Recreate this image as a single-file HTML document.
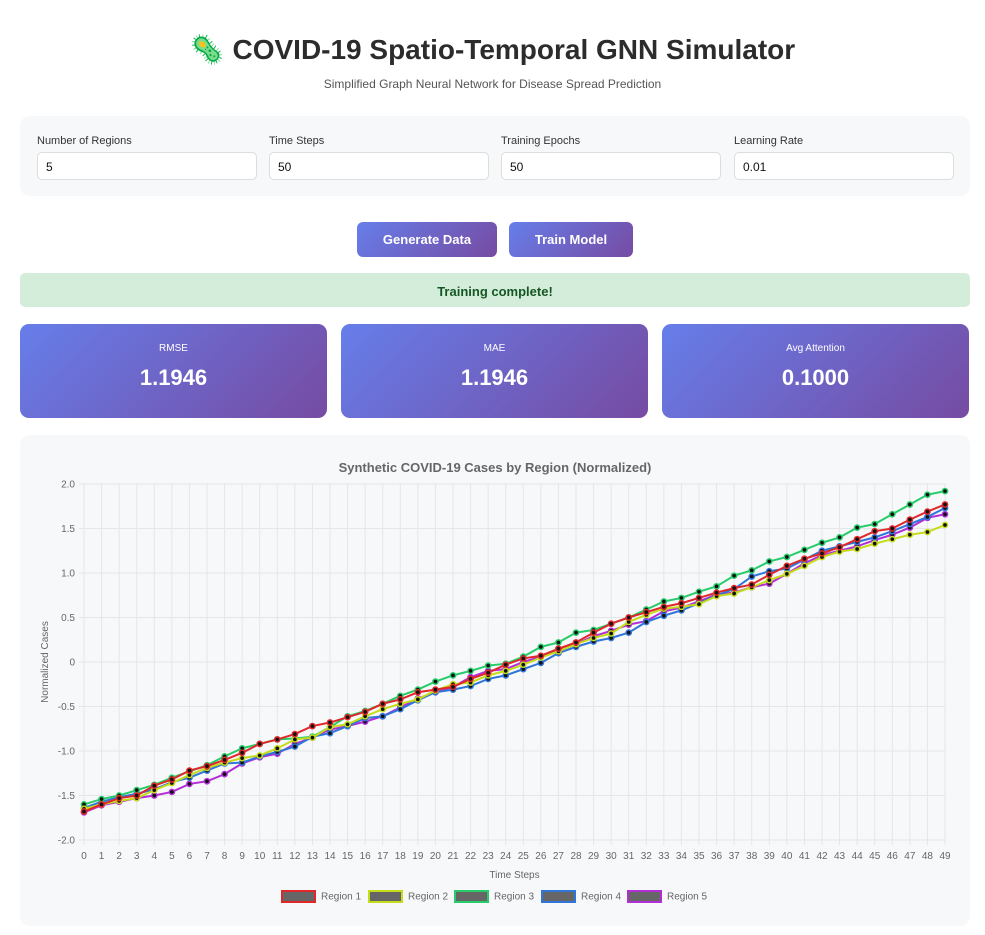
<!DOCTYPE html>
<html><head><meta charset="utf-8">
<style>
*{box-sizing:border-box;margin:0;padding:0}
body{width:985px;height:935px;background:#fff;font-family:"Liberation Sans",sans-serif;color:#333;position:relative;overflow:hidden}
h1{position:absolute;top:33px;left:0;width:985px;text-align:center;font-size:28px;font-weight:bold;color:#2c2c2c;font-family:"Liberation Sans",sans-serif}
.sub{position:absolute;top:77px;left:0;width:985px;text-align:center;font-size:12px;color:#555}
.panel{position:absolute;background:#f7f8fa;border-radius:10px}
.lab{position:absolute;font-size:11px;color:#333}
.inp{position:absolute;height:28px;width:220px;border:1px solid #ddd;border-radius:5px;background:#fff;font-size:12px;padding:7px 8px;color:#111}
.btn{position:absolute;top:222px;height:35px;border-radius:6px;background:linear-gradient(135deg,#667eea,#764ba2);color:#fff;font-weight:bold;font-size:13px;text-align:center;line-height:35px}
.status{position:absolute;left:20px;top:273px;width:950px;height:34px;background:#d4edda;border-radius:5px;color:#155724;font-weight:bold;font-size:13px;text-align:center;line-height:38px}
.card{position:absolute;top:324px;width:307px;height:94px;border-radius:9px;background:linear-gradient(135deg,#667eea,#764ba2);color:#fff;text-align:center}
.card .t{margin-top:19px;font-size:10px}
.card .v{margin-top:11px;font-size:22px;font-weight:bold}
</style></head><body>
<h1><span style="color:#3aa655">🦠</span> COVID-19 Spatio-Temporal GNN Simulator</h1>
<div class="sub">Simplified Graph Neural Network for Disease Spread Prediction</div>
<div class="panel" style="left:20px;top:116px;width:950px;height:80px"></div>
<div class="lab" style="left:37px;top:135px">Number of Regions</div>
<div class="inp" style="left:37px;top:152px">5</div>
<div class="lab" style="left:269px;top:135px">Time Steps</div>
<div class="inp" style="left:269px;top:152px">50</div>
<div class="lab" style="left:501px;top:135px">Training Epochs</div>
<div class="inp" style="left:501px;top:152px">50</div>
<div class="lab" style="left:734px;top:135px">Learning Rate</div>
<div class="inp" style="left:734px;top:152px">0.01</div>
<div class="btn" style="left:357px;width:140px">Generate Data</div>
<div class="btn" style="left:509px;width:124px">Train Model</div>
<div class="status">Training complete!</div>
<div class="card" style="left:20px"><div class="t">RMSE</div><div class="v">1.1946</div></div>
<div class="card" style="left:341px"><div class="t">MAE</div><div class="v">1.1946</div></div>
<div class="card" style="left:662px"><div class="t">Avg Attention</div><div class="v">0.1000</div></div>
<div class="panel" style="left:20px;top:435px;width:950px;height:491px"></div>
<svg id="chart" width="985" height="935" style="position:absolute;left:0;top:0" font-family="Liberation Sans, sans-serif"></svg>
<script>
const timeSteps=Array.from({length:50},(_,i)=>i);
const yTicks=[2.0,1.5,1.0,0.5,0,-0.5,-1.0,-1.5,-2.0];
const yTickLabels=["2.0","1.5","1.0","0.5","0","-0.5","-1.0","-1.5","-2.0"];
const seriesNames=["Region 1","Region 2","Region 3","Region 4","Region 5"];
const seriesColors=["#e0282a","#c5dc1a","#27cc6a","#2f76d8","#b22fd6"];
const region1=[-1.68,-1.6,-1.53,-1.5,-1.39,-1.32,-1.22,-1.17,-1.1,-1.02,-0.92,-0.87,-0.81,-0.72,-0.68,-0.62,-0.56,-0.47,-0.42,-0.34,-0.31,-0.28,-0.19,-0.12,-0.03,0.04,0.07,0.15,0.22,0.33,0.43,0.5,0.56,0.62,0.66,0.72,0.78,0.83,0.87,0.98,1.08,1.16,1.22,1.29,1.38,1.47,1.5,1.6,1.69,1.77];
const region2=[-1.65,-1.6,-1.56,-1.53,-1.44,-1.36,-1.27,-1.19,-1.13,-1.08,-1.05,-0.97,-0.87,-0.85,-0.73,-0.7,-0.61,-0.53,-0.47,-0.42,-0.32,-0.25,-0.23,-0.15,-0.1,-0.03,0.05,0.12,0.2,0.27,0.32,0.45,0.53,0.6,0.62,0.65,0.74,0.77,0.84,0.92,0.99,1.08,1.18,1.24,1.27,1.33,1.38,1.43,1.46,1.54];
const region3=[-1.6,-1.54,-1.5,-1.44,-1.38,-1.3,-1.23,-1.16,-1.06,-0.97,-0.92,-0.87,-0.86,-0.84,-0.73,-0.61,-0.55,-0.47,-0.38,-0.31,-0.22,-0.15,-0.1,-0.04,-0.02,0.06,0.17,0.22,0.33,0.36,0.43,0.5,0.59,0.68,0.72,0.79,0.85,0.97,1.03,1.13,1.18,1.26,1.34,1.4,1.51,1.55,1.66,1.77,1.88,1.92];
const region4=[-1.64,-1.57,-1.52,-1.48,-1.43,-1.35,-1.3,-1.22,-1.14,-1.13,-1.06,-1.01,-0.95,-0.84,-0.8,-0.72,-0.63,-0.61,-0.53,-0.43,-0.34,-0.31,-0.27,-0.19,-0.15,-0.08,-0.01,0.1,0.17,0.23,0.27,0.33,0.45,0.52,0.58,0.66,0.75,0.82,0.96,1.02,1.05,1.15,1.25,1.3,1.35,1.4,1.47,1.55,1.63,1.73];
const region5=[-1.69,-1.61,-1.57,-1.53,-1.5,-1.46,-1.37,-1.34,-1.26,-1.14,-1.07,-1.03,-0.92,-0.85,-0.76,-0.72,-0.67,-0.61,-0.51,-0.41,-0.34,-0.28,-0.17,-0.1,-0.08,0.0,0.06,0.13,0.2,0.29,0.35,0.42,0.46,0.57,0.61,0.68,0.76,0.78,0.84,0.88,0.99,1.11,1.2,1.25,1.3,1.37,1.43,1.51,1.62,1.66];
const allSeries=[region1,region2,region3,region4,region5];

const svg=document.getElementById('chart');
const NS='http://www.w3.org/2000/svg';
const L=84,R=945,T=484,B=840,yMin=-2,yMax=2;
const xS=i=>L+(R-L)*i/(timeSteps.length-1);
const yS=v=>B-(v-yMin)/(yMax-yMin)*(B-T);
function mk(tag,attrs,parent){const e=document.createElementNS(NS,tag);for(const k in attrs)e.setAttribute(k,attrs[k]);(parent||svg).appendChild(e);return e;}

const title=mk('text',{x:495,y:472,'text-anchor':'middle','font-size':13,'font-weight':'bold',fill:'#666'});
title.textContent='Synthetic COVID-19 Cases by Region (Normalized)';



timeSteps.forEach((t,i)=>{
  const g=mk('line',{x1:xS(i),x2:xS(i),y1:T,y2:B+5,stroke:'#e6e6e6','stroke-width':1});
  
  
  const lb=mk('text',{x:xS(i),y:B+19,'text-anchor':'middle','font-size':10,fill:'#666'});
  lb.textContent=String(t);
  
  
});
yTicks.forEach((v,i)=>{
  const g=mk('line',{x1:L-5,x2:R,y1:yS(v),y2:yS(v),stroke:'#e6e6e6','stroke-width':1});
  
  
  const lb=mk('text',{x:L-9,y:yS(v)+3.5,'text-anchor':'end','font-size':10,fill:'#666'});
  lb.textContent=yTickLabels[i];
  
  
});
const xt=mk('text',{x:(L+R)/2,y:878,'text-anchor':'middle','font-size':10,fill:'#666'});
xt.textContent='Time Steps';


const yt=mk('text',{x:0,y:0,'text-anchor':'middle','font-size':10,fill:'#666',transform:'translate(48,662) rotate(-90)'});
yt.textContent='Normalized Cases';



for(let s=allSeries.length-1;s>=0;s--){
  const d=allSeries[s];
  const pl=mk('polyline',{points:d.map((v,i)=>xS(i)+','+yS(v)).join(' '),fill:'none',stroke:seriesColors[s],'stroke-width':2});
  
  
  d.forEach((v,i)=>{
    const c=mk('circle',{cx:xS(i),cy:yS(v),r:2.6,fill:'#111',stroke:seriesColors[s],'stroke-width':1.5});
    
    
  });
}
const legX=[282,369,455,542,628];
seriesNames.forEach((n,i)=>{
  const r=mk('rect',{x:legX[i],y:891,width:33,height:11,fill:'#666',stroke:seriesColors[i],'stroke-width':2});
  
  
  const t=mk('text',{x:legX[i]+39,y:899.5,'font-size':10,fill:'#666'});
  t.textContent=n;
  
  
});
</script>
</body></html>
